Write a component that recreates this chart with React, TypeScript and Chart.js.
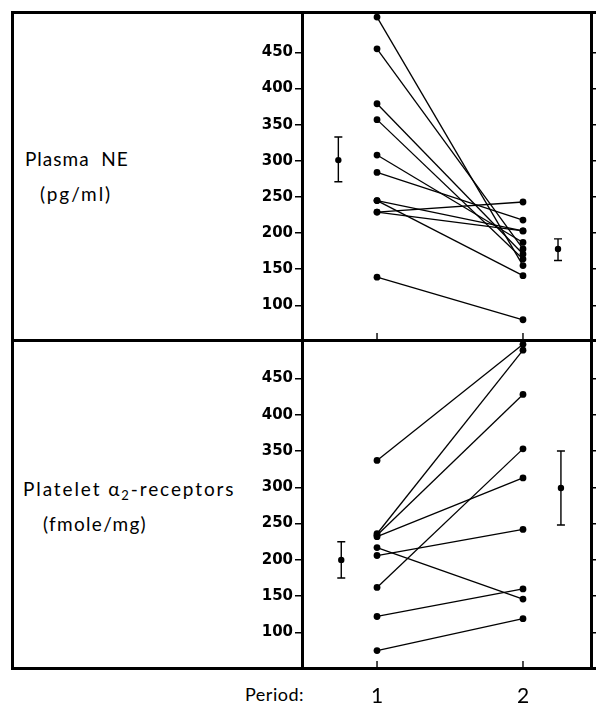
import React, { useEffect, useRef } from "react";
import { Chart, registerables } from "chart.js";

Chart.register(...registerables);

// Period positions on the x axis
const periodTicks = [1, 2];

// Plasma NE (pg/ml): each subject, period 1 -> period 2
const neP1 = [499, 455, 379, 357, 308, 284, 245, 245, 229, 229, 139];
const neP2 = [155, 178, 171, 164, 187, 218, 203, 141, 243, 203, 80];

// Platelet alpha2-receptors (fmole/mg): each subject, period 1 -> period 2
const rcP1 = [337, 236, 234, 232, 217, 206, 162, 122, 75];
const rcP2 = [497, 489, 428, 313, 146, 242, 353, 160, 119];

// Group means with error bars (mean, low, high), placed beside each period
const neMeanX = [0.735, 2.24];
const neMean = [301, 178];
const neLow = [271, 162];
const neHigh = [333, 192];

const rcMeanX = [0.755, 2.26];
const rcMean = [200, 299];
const rcLow = [175, 248];
const rcHigh = [225, 350];

// Y tick values shown on both panels
const yTickValues = [100, 150, 200, 250, 300, 350, 400, 450];

const errorBarPlugin = {
  id: "errorBars",
  afterDatasetsDraw(chart: any) {
    const ctx = chart.ctx;
    const xs = chart.scales.x;
    chart.data.datasets.forEach((ds: any) => {
      if (!ds.errLow) return;
      const ys = chart.scales[ds.yAxisID];
      ds.data.forEach((p: any, j: number) => {
        const x = xs.getPixelForValue(p.x);
        const yl = ys.getPixelForValue(ds.errLow[j]);
        const yh = ys.getPixelForValue(ds.errHigh[j]);
        ctx.save();
        ctx.strokeStyle = "#000";
        ctx.lineWidth = 1.4;
        ctx.beginPath();
        ctx.moveTo(x, yl);
        ctx.lineTo(x, yh);
        ctx.moveTo(x - 4, yl);
        ctx.lineTo(x + 4, yl);
        ctx.moveTo(x - 4, yh);
        ctx.lineTo(x + 4, yh);
        ctx.stroke();
        ctx.restore();
      });
    });
  },
};

const innerTickPlugin = {
  id: "innerTicks",
  afterDraw(chart: any) {
    const ctx = chart.ctx;
    const xs = chart.scales.x;
    ["yTop", "yBot"].forEach((id) => {
      const s = chart.scales[id];
      if (!s) return;
      ctx.save();
      ctx.strokeStyle = "#000";
      ctx.lineWidth = 1.4;
      periodTicks.forEach((v) => {
        const x = xs.getPixelForValue(v);
        ctx.beginPath();
        ctx.moveTo(x, s.bottom);
        ctx.lineTo(x, s.bottom - 7);
        ctx.stroke();
      });
      ctx.restore();
    });
  },
};

function subjectDatasets(p1: number[], p2: number[], axis: string) {
  return p1.map((v, i) => ({
    type: "line" as const,
    data: [
      { x: periodTicks[0], y: v },
      { x: periodTicks[1], y: p2[i] },
    ],
    yAxisID: axis,
    borderColor: "#000",
    borderWidth: 1.3,
    pointRadius: 3.4,
    pointBackgroundColor: "#000",
    pointBorderWidth: 0,
    fill: false,
  }));
}

function meanDataset(xs: number[], m: number[], lo: number[], hi: number[], axis: string) {
  return {
    type: "line" as const,
    data: xs.map((x, i) => ({ x, y: m[i] })),
    showLine: false,
    yAxisID: axis,
    pointRadius: 3.2,
    pointBackgroundColor: "#000",
    pointBorderWidth: 0,
    borderColor: "#000",
    errLow: lo,
    errHigh: hi,
  } as any;
}

function yScale(min: number, max: number, pos: "left" | "right") {
  const left = pos === "left";
  return {
    type: "linear" as const,
    position: pos,
    stack: pos,
    stackWeight: 1,
    min,
    max,
    afterBuildTicks: (s: any) => {
      s.ticks = yTickValues.map((v) => ({ value: v }));
    },
    afterFit: (s: any) => {
      s.width = left ? 302 : 5;
    },
    grid: {
      drawOnChartArea: false,
      drawTicks: true,
      tickLength: left ? 7 : 5,
      color: "#000",
      lineWidth: 1.5,
    },
    border: { display: true, color: "#000", width: 3 },
    ticks: {
      display: left,
      color: "#000",
      padding: 2,
      font: { family: "DejaVu Sans", weight: "bold" as const, size: 15 },
    },
  };
}

export default function App() {
  const canvasRef = useRef<HTMLCanvasElement | null>(null);

  useEffect(() => {
    if (!canvasRef.current) return;
    const chart = new Chart(canvasRef.current, {
      type: "line",
      data: {
        datasets: [
          ...subjectDatasets(neP1, neP2, "yTop"),
          meanDataset(neMeanX, neMean, neLow, neHigh, "yTop"),
          ...subjectDatasets(rcP1, rcP2, "yBot"),
          meanDataset(rcMeanX, rcMean, rcLow, rcHigh, "yBot"),
        ] as any,
      },
      options: {
        responsive: false,
        animation: false,
        events: [],
        layout: { padding: { left: 0, right: 0, top: 12, bottom: 0 } },
        plugins: {
          legend: { display: false },
          tooltip: { enabled: false },
        },
        scales: {
          x: {
            type: "linear",
            min: 0.486,
            max: 2.466,
            afterBuildTicks: (s: any) => {
              s.ticks = periodTicks.map((v) => ({ value: v }));
            },
            afterFit: (s: any) => {
              s.height = 39;
            },
            grid: { display: false, drawTicks: false, drawOnChartArea: false },
            border: { display: false },
            ticks: {
              color: "#000",
              padding: 16,
              font: { family: "Lato", size: 21 },
              callback: (v: any) => String(v),
            },
          },
          yBot: yScale(51, 503, "left"),
          yTop: yScale(52, 506, "left"),
          rTop: yScale(52, 506, "right"),
          rBot: yScale(51, 503, "right"),
        } as any,
      },
      plugins: [errorBarPlugin, innerTickPlugin],
    });
    return () => chart.destroy();
  }, []);

  const line = (l: number, t: number, w: number, h: number) => (
    <div style={{ position: "absolute", left: l, top: t, width: w, height: h, background: "#000" }} />
  );

  const label: React.CSSProperties = {
    position: "absolute",
    fontFamily: "Lato, sans-serif",
    fontSize: 19,
    lineHeight: 1.2,
    color: "#000",
    whiteSpace: "nowrap",
  };

  return (
    <div style={{ position: "absolute", left: 0, top: 0, width: 596, height: 707, background: "#fff", overflow: "hidden" }}>
      {line(11, 11, 3, 659)}
      {line(11, 11, 585, 3)}
      {line(11, 339, 585, 3)}
      {line(11, 667, 585, 3)}
      <div style={{ ...label, left: 25, top: 148, letterSpacing: 1 }}>Plasma&nbsp; NE</div>
      <div style={{ ...label, left: 40, top: 183, letterSpacing: 1.9 }}>(pg/ml)</div>
      <div style={{ ...label, left: 23, top: 478, letterSpacing: 1.9 }}>
        Platelet α<sub style={{ fontSize: 13, verticalAlign: "-4px", lineHeight: 0 }}>2</sub>-receptors
      </div>
      <div style={{ ...label, left: 43, top: 513, letterSpacing: 1.3 }}>(fmole/mg)</div>
      <div style={{ ...label, left: 245, top: 684, fontSize: 18, letterSpacing: 0.5 }}>Period:</div>
      <canvas
        ref={canvasRef}
        width={596}
        height={707}
        style={{ position: "absolute", left: 0, top: 0, width: 596, height: 707 }}
      />
    </div>
  );
}
